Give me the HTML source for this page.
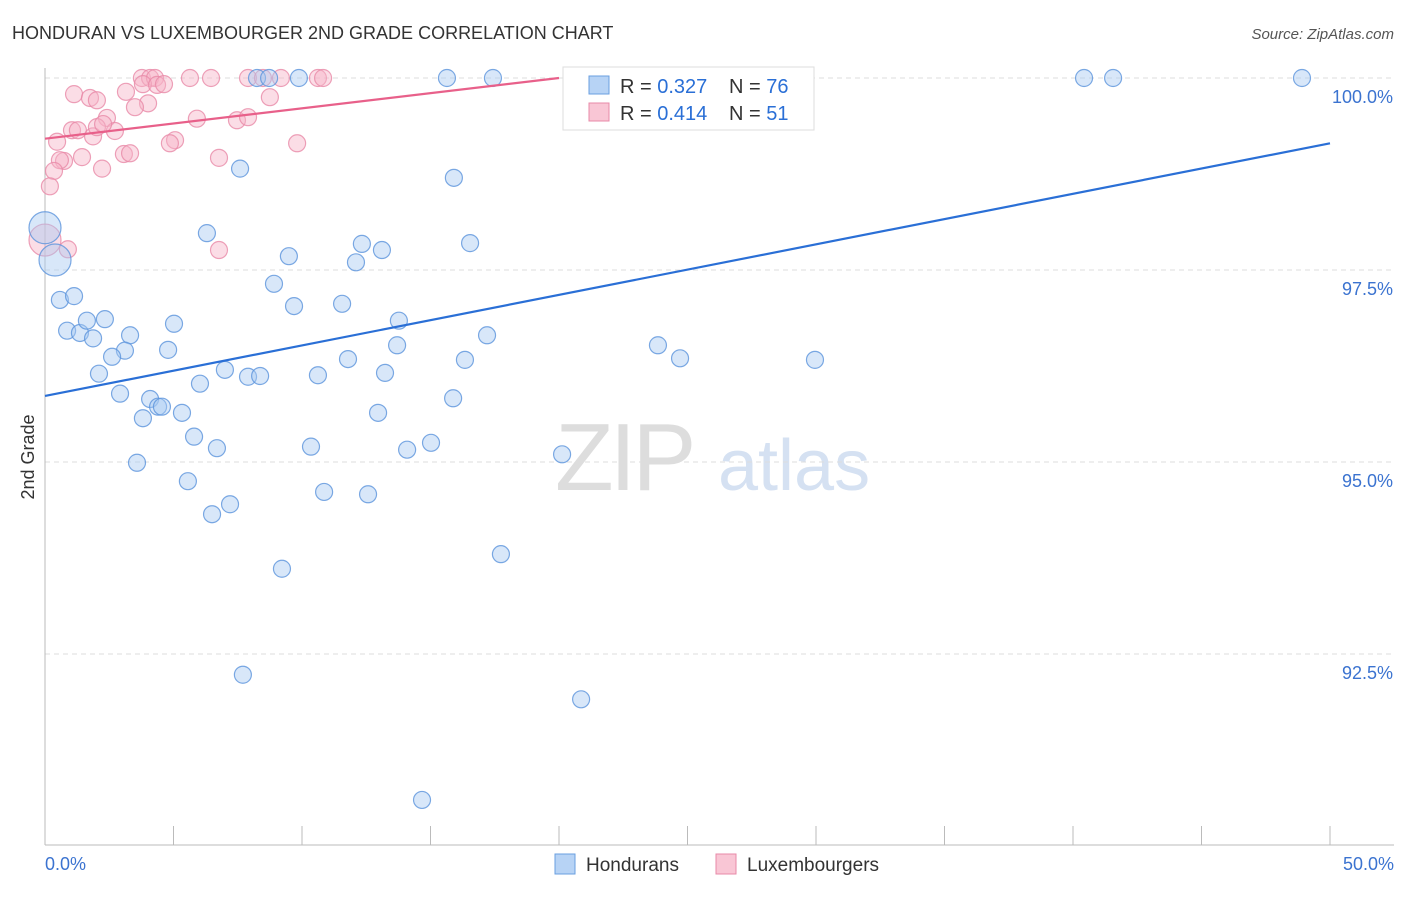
<!DOCTYPE html>
<html><head><meta charset="utf-8"><style>
body{margin:0;background:#fff;font-family:"Liberation Sans",sans-serif;}
svg text{font-family:"Liberation Sans",sans-serif;}
</style></head><body>
<svg id="chart" width="1406" height="892" xmlns="http://www.w3.org/2000/svg">
<text x="12" y="39" font-size="18" fill="#333">HONDURAN VS LUXEMBOURGER 2ND GRADE CORRELATION CHART</text>
<text x="1394" y="39" font-size="15" fill="#555" text-anchor="end" font-style="italic">Source: ZipAtlas.com</text>
<g>
<text x="555" y="490" font-size="96" fill="#ddd" font-family="Liberation Serif" letter-spacing="-4">ZIP</text>
<text x="718" y="490" font-size="72" fill="#d5e1f2">atlas</text>
</g>
<g id="grid"></g>
<g id="axes"></g>
<g id="pts"></g>
<g id="lines"></g>
<text transform="translate(34,457) rotate(-90)" font-size="18" fill="#333" text-anchor="middle">2nd Grade</text>
<g>
<rect x="563" y="67" width="251" height="63" fill="#fff" stroke="#ddd"/>
<rect x="589" y="76" width="20" height="18" fill="#b7d3f5" stroke="#6a9fe0"/>
<text x="620" y="93" font-size="20" fill="#333">R = <tspan fill="#2a6fd6">0.327</tspan></text>
<text x="729" y="93" font-size="20" fill="#333">N = <tspan fill="#2a6fd6">76</tspan></text>
<rect x="589" y="103" width="20" height="18" fill="#f9c6d5" stroke="#e88aa8"/>
<text x="620" y="120" font-size="20" fill="#333">R = <tspan fill="#2a6fd6">0.414</tspan></text>
<text x="729" y="120" font-size="20" fill="#333">N = <tspan fill="#2a6fd6">51</tspan></text>
</g>
<g>
<rect x="555" y="854" width="20" height="20" fill="#b7d3f5" stroke="#6a9fe0"/>
<text x="586" y="871" font-size="19" fill="#333">Hondurans</text>
<rect x="716" y="854" width="20" height="20" fill="#f9c6d5" stroke="#e88aa8"/>
<text x="747" y="871" font-size="19" fill="#333">Luxembourgers</text>
</g>
</svg>
<script>
const blueX=[8.25,8.72,9.88,15.64,17.43,25.02,28.21,40.43,41.56,48.91,15.91,7.59,6.30,9.49,12.33,12.10,13.11,16.54,8.91,9.69,11.56,13.77,17.20,13.70,11.79,16.34,23.85,24.71,29.96,0.39,0.0,0.58,1.13,0.86,1.36,1.63,2.33,1.87,3.31,5.02,3.11,2.61,4.79,2.10,7.00,7.90,8.37,10.62,13.23,6.03,2.92,4.09,4.40,4.55,5.33,3.81,12.96,15.88,5.80,6.69,10.35,14.09,15.02,20.12,3.58,5.56,7.20,6.50,10.86,12.57,9.22,17.74,7.70,20.86,14.67];
const blueY=[100,100,100,100,100,100,100,100,100,100,98.70,98.82,97.98,97.68,97.84,97.60,97.76,97.85,97.32,97.03,97.06,96.84,96.65,96.52,96.34,96.33,96.52,96.35,96.33,97.63,98.05,97.11,97.16,96.71,96.68,96.84,96.86,96.61,96.65,96.80,96.45,96.37,96.46,96.15,96.20,96.11,96.12,96.13,96.16,96.02,95.89,95.82,95.72,95.72,95.64,95.57,95.64,95.83,95.33,95.18,95.20,95.16,95.25,95.10,94.99,94.75,94.45,94.32,94.61,94.58,93.61,93.80,92.23,91.91,90.60];
const blueBig=[29,30];
const pinkX=[3.77,4.09,4.28,5.64,6.46,7.90,8.48,9.18,10.62,10.82,23.15,25.88,26.85,3.81,4.36,4.63,1.13,1.75,2.02,3.15,4.01,3.50,8.75,2.41,5.91,7.47,7.90,1.05,1.28,1.87,2.02,2.72,2.26,5.06,4.86,9.81,0.47,3.07,3.31,6.77,1.44,0.74,0.58,2.22,0.35,0.19,0.89,6.77,0.0];
const pinkY=[100,100,100,100,100,100,100,100,100,100,100,100,100,99.92,99.91,99.92,99.79,99.74,99.71,99.82,99.67,99.62,99.75,99.48,99.47,99.45,99.49,99.32,99.32,99.24,99.36,99.31,99.40,99.19,99.15,99.15,99.17,99.01,99.02,98.96,98.97,98.92,98.93,98.82,98.79,98.59,97.77,97.76,97.89];
const pinkBig=[48];
const blueTrend=[95.86,99.15];
const pinkTrend=[99.21,0.0395];
const yTicks=[100,97.5,95,92.5];
const yTickLabels=["100.0%","97.5%","95.0%","92.5%"];
const xTickLabels=["0.0%","50.0%"];
const NS="http://www.w3.org/2000/svg";
const sx=v=>45+v*25.7;
const sy=v=>78+(100-v)*76.8;
function mk(tag,attrs,parent){const e=document.createElementNS(NS,tag);for(const k in attrs)e.setAttribute(k,attrs[k]);document.getElementById(parent).appendChild(e);return e;}
yTicks.forEach((t,i)=>{
 const g=mk('line',{x1:45,x2:1394,y1:sy(t),y2:sy(t),stroke:'#ddd','stroke-dasharray':'5,4'},'grid');
 
 
 const tx=mk('text',{x:1393,y:sy(t)+25,'font-size':18,fill:'#3b73d0','text-anchor':'end'},'axes');
 tx.textContent=yTickLabels[i];
 
 
});
const ya=mk('line',{x1:45,x2:45,y1:68,y2:845,stroke:'#bbb'},'axes');


const xa=mk('line',{x1:45,x2:1394,y1:845,y2:845,stroke:'#bbb'},'axes');


for(let i=0;i<=10;i++){
 const t=mk('line',{x1:sx(i*5),x2:sx(i*5),y1:826,y2:845,stroke:'#bbb'},'axes');
 
 
}
[[0,'start',45],[50,'end',1394]].forEach((a,i)=>{
 const t=mk('text',{x:a[2],y:870,'font-size':18,fill:'#3b73d0','text-anchor':a[1]},'axes');
 t.textContent=xTickLabels[i];
 
 
});
function dots(X,Y,big,fill,stroke,name){
 X.forEach((x,i)=>{
  const c=mk('circle',{cx:sx(x),cy:sy(Y[i]),r:big.includes(i)?16:8.5,fill:fill,'fill-opacity':0.45,stroke:stroke,'stroke-opacity':0.8,'stroke-width':1.2},'pts');
  
  
 });
}
dots(pinkX,pinkY,pinkBig,'#f7b3c8','#e889a8','luxembourger-point');
dots(blueX,blueY,blueBig,'#a9c9f2','#5b93dc','honduran-point');
const bl=mk('line',{x1:sx(0),y1:sy(blueTrend[0]),x2:sx(50),y2:sy(blueTrend[1]),stroke:'#2a6fd6','stroke-width':2.2},'lines');


const xe=(100-pinkTrend[0])/pinkTrend[1];
const pl=mk('line',{x1:sx(0),y1:sy(pinkTrend[0]),x2:sx(xe),y2:sy(100),stroke:'#e8608a','stroke-width':2.2},'lines');


</script>
</body></html>
